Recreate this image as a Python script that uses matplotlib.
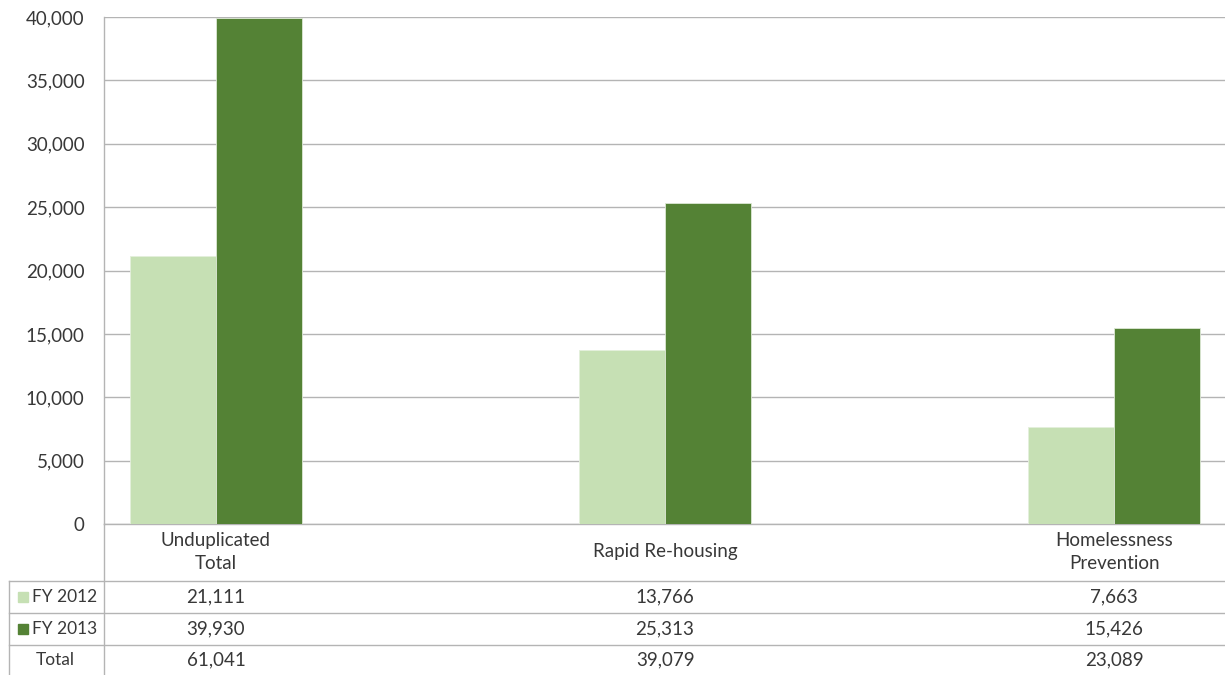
import matplotlib.pyplot as plt
import numpy as np
from matplotlib.lines import Line2D
from matplotlib.patches import Rectangle
from matplotlib.ticker import FuncFormatter, MultipleLocator
import matplotlib.transforms as mtransforms

plt.rcParams['font.family'] = ['Lato', 'DejaVu Sans']

# Households served, by program
categories = ['Unduplicated\nTotal', 'Rapid Re-housing', 'Homelessness\nPrevention']
series_names = ['FY 2012', 'FY 2013']
fy2012 = [21111, 13766, 7663]
fy2013 = [39930, 25313, 15426]
totals = [61041, 39079, 23089]

colors = ['#C6E0B4', '#548235']
text_color = '#383838'
line_color = '#B4B4B4'
fs = 13.5
W, H = 1225, 675

fig = plt.figure(figsize=(12.25, 6.75), dpi=100)


def fx(px):
    return px / W


def fy(py):
    return 1 - py / H


ax = fig.add_axes([fx(104), fy(524), fx(1225 - 104), (524 - 17) / H])

x = np.arange(len(categories))
bar_w = 0.192
ax.bar(x - bar_w / 2, fy2012, bar_w, color=colors[0], edgecolor='#E4EFDC', linewidth=0.6, zorder=3)
ax.bar(x + bar_w / 2, fy2013, bar_w, color=colors[1], edgecolor='#DDE8D5', linewidth=0.6, zorder=3)

ax.set_xlim(-0.2494, 2.247)
ax.set_ylim(0, 40000)
ax.yaxis.set_major_locator(MultipleLocator(5000))
ax.yaxis.set_major_formatter(FuncFormatter(lambda v, p: f'{v:,.0f}'))
ax.tick_params(axis='y', length=0, pad=14, labelsize=fs, labelcolor=text_color)
ax.set_xticks([])
ax.grid(axis='y', color=line_color, linewidth=1.0, zorder=0)
for side in ['right', 'top']:
    ax.spines[side].set_visible(False)
for side in ['left', 'bottom']:
    ax.spines[side].set_color(line_color)
    ax.spines[side].set_linewidth(1.0)

# Data table below the plot
blend = mtransforms.blended_transform_factory(ax.transData, fig.transFigure)

for xi, cat in zip(x, categories):
    ax.text(xi, fy(552), cat, transform=blend, ha='center', va='center',
            fontsize=fs, color=text_color, linespacing=1.45)

row_ys = [597, 629, 660]
for row_y, vals in zip(row_ys, [fy2012, fy2013, totals]):
    for xi, v in zip(x, vals):
        ax.text(xi, fy(row_y), f'{v:,}', transform=blend, ha='center', va='center',
                fontsize=fs, color=text_color)

# row headers with legend keys
for row_y, name, c in zip(row_ys[:2], series_names, colors):
    fig.patches.append(Rectangle((fx(18), fy(row_y + 5)), fx(10), 10 / H,
                                 transform=fig.transFigure, color=c))
    fig.text(fx(32), fy(row_y), name, ha='left', va='center', fontsize=12.5, color=text_color)
fig.text(fx(55), fy(row_ys[2]), 'Total', ha='center', va='center', fontsize=12.5, color=text_color)

# table rules
for ly in [581, 613, 645]:
    fig.lines.append(Line2D([fx(9), 1], [fy(ly), fy(ly)], transform=fig.transFigure,
                            color=line_color, linewidth=1.0))
fig.lines.append(Line2D([fx(104), fx(104)], [fy(524), 0], transform=fig.transFigure,
                        color=line_color, linewidth=1.0))
fig.lines.append(Line2D([fx(9), fx(9)], [fy(581), 0], transform=fig.transFigure,
                        color=line_color, linewidth=1.0))

fig.savefig('out.png', dpi=100, facecolor='white')
